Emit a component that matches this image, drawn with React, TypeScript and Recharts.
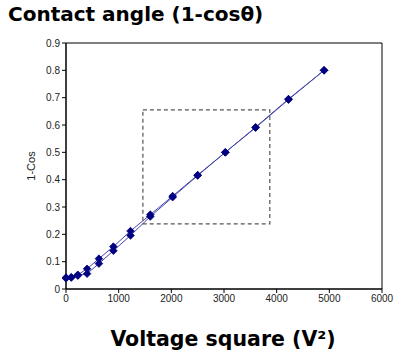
import { LineChart, Line, XAxis, YAxis, ReferenceArea } from "recharts";

// voltage squared (V^2) and 1-cos(theta), two sweeps
const voltSq = [0, 100, 225, 400, 625, 900, 1225, 1600, 2025, 2500, 3025, 3600, 4225, 4900];
const upSweep = [0.042, 0.043, 0.052, 0.074, 0.111, 0.155, 0.212, 0.272, 0.34, 0.417, 0.5, 0.592, 0.695, 0.8];
const downSweep = [0.039, 0.042, 0.049, 0.056, 0.093, 0.14, 0.196, 0.265, 0.336, 0.415, 0.5, 0.59, 0.693, 0.8];
const xTicks = [0, 1000, 2000, 3000, 4000, 5000, 6000];
const yTicks = [0, 0.1, 0.2, 0.3, 0.4, 0.5, 0.6, 0.7, 0.8, 0.9];

const rows = voltSq.map((v, i) => ({ v, up: upSweep[i], down: downSweep[i] }));

const NAVY = "#000080";

const Diamond = (p: any) => {
  const { cx, cy, key } = p;
  if (cx == null || cy == null) return <g key={key} />;
  const r = 3.8;
  return (
    <polygon
      key={key}
      points={`${cx},${cy - r} ${cx + r},${cy} ${cx},${cy + r} ${cx - r},${cy}`}
      fill={NAVY}
      stroke={NAVY}
      strokeWidth={0.8}
    />
  );
};

const tickStyle = { fontFamily: "Liberation Sans, Arial, sans-serif", fontSize: 10, fill: "#222" };

export default function App() {
  return (
    <div style={{ position: "absolute", left: 0, top: 0, width: 400, height: 360, background: "#fff" }}>
      <div
        style={{
          position: "absolute",
          left: 8,
          top: 2,
          fontFamily: "DejaVu Sans, Verdana, sans-serif",
          fontWeight: "bold",
          fontSize: 20,
          color: "#000",
          whiteSpace: "nowrap",
        }}
      >
        Contact angle (1-cosθ)
      </div>
      <LineChart width={400} height={360} data={rows} margin={{ top: 43, right: 18, bottom: 0, left: 0 }}>
        <XAxis
          dataKey="v"
          type="number"
          domain={[0, 6000]}
          ticks={xTicks}
          tick={tickStyle}
          tickSize={4}
          tickLine={{ stroke: "#000" }}
          axisLine={{ stroke: "#000" }}
          height={71}
          interval={0}
        />
        <YAxis
          type="number"
          domain={[0, 0.9]}
          ticks={yTicks}
          tick={tickStyle}
          tickSize={4}
          tickLine={{ stroke: "#000" }}
          axisLine={{ stroke: "#000" }}
          width={66}
          interval={0}
          label={{
            value: "1-Cos",
            angle: -90,
            position: "insideLeft",
            offset: 31,
            style: { ...tickStyle, fontSize: 11, textAnchor: "middle" },
          }}
        />
        <ReferenceArea x1={0} x2={6000} y1={0} y2={0.9} fill="none" stroke="#000" strokeWidth={1} />
        <ReferenceArea
          x1={1460}
          x2={3870}
          y1={0.238}
          y2={0.655}
          fill="none"
          stroke="#555"
          strokeWidth={1.2}
          strokeDasharray="4 3"
        />
        <Line dataKey="down" stroke="#4444aa" strokeWidth={1} dot={Diamond} isAnimationActive={false} />
        <Line dataKey="up" stroke="#4444aa" strokeWidth={1} dot={Diamond} isAnimationActive={false} />
      </LineChart>
      <div
        style={{
          position: "absolute",
          left: 0,
          width: 446,
          top: 327,
          textAlign: "center",
          fontFamily: "DejaVu Sans, Verdana, sans-serif",
          fontWeight: "bold",
          fontSize: 20.5,
          color: "#000",
          whiteSpace: "nowrap",
        }}
      >
        Voltage square (V²)
      </div>
    </div>
  );
}
